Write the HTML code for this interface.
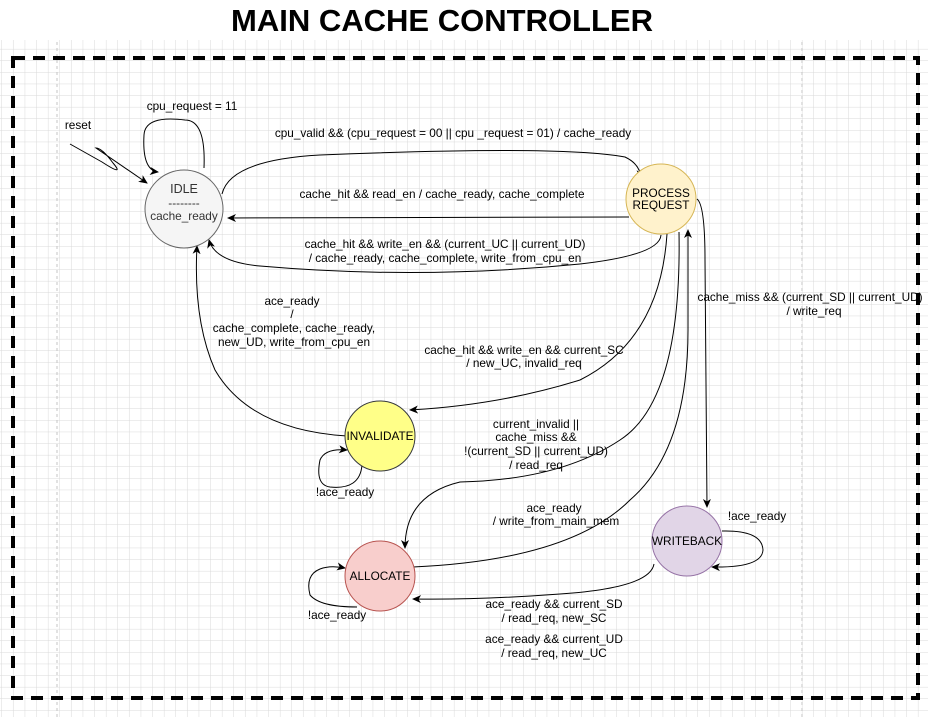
<!DOCTYPE html>
<html><head><meta charset="utf-8"><style>
html,body{margin:0;padding:0;background:#fff}
svg{display:block}
text{font-family:"Liberation Sans",Arial,sans-serif;font-size:11.8px;fill:#000}
</style></head><body>
<svg width="928" height="717" viewBox="0 0 928 717" xmlns="http://www.w3.org/2000/svg">
<defs>
<pattern id="g" width="11.6" height="11.6" patternUnits="userSpaceOnUse" x="2" y="3">
<path d="M11.6 0V11.6M0 11.6H11.6" stroke="#d9d9d9" stroke-width="1" fill="none"/>
</pattern>
<marker id="a" markerWidth="10" markerHeight="10" refX="8" refY="4" orient="auto" markerUnits="userSpaceOnUse">
<path d="M0 0L9 4L0 8L2.5 4Z" fill="#000"/>
</marker>
</defs>
<rect width="928" height="717" fill="#fff"/>
<rect x="0" y="40" width="928" height="677" fill="url(#g)"/>
<line x1="57" y1="0" x2="57" y2="717" stroke="#c4c4c4" stroke-dasharray="3,3"/>
<line x1="802" y1="0" x2="802" y2="717" stroke="#c4c4c4" stroke-dasharray="3,3"/>
<rect x="0" y="0" width="928" height="40" fill="#fff"/>
<text x="442" y="31" text-anchor="middle" style="font-size:31px;font-weight:bold">MAIN CACHE CONTROLLER</text>
<rect x="13" y="58" width="905" height="640" fill="none" stroke="#000" stroke-width="4" stroke-dasharray="12,8"/>

<g fill="none" stroke="#000" stroke-width="1">
<path d="M70 144L102 162Q125 177 113 163Q102 148 96 148L147 183" marker-end="url(#a)"/>
<path d="M204 168Q206 120 185 120Q145 115 144 135Q142 170 158 172" marker-end="url(#a)"/>
<path d="M222 194Q230 160 320 155Q560 145 625 157Q640 164 641 178" marker-end="url(#a)"/>
<path d="M629 217L228 218" marker-end="url(#a)"/>
<path d="M661 235Q660 255 580 264Q420 280 260 266Q215 262 209 240" marker-end="url(#a)"/>
<path d="M347 436Q250 430 215 370Q193 320 197 246" marker-end="url(#a)"/>
<path d="M667 234Q660 340 580 380Q500 405 410 410" marker-end="url(#a)"/>
<path d="M362 465Q360 490 330 487Q315 485 320 460Q325 448 347 450" marker-end="url(#a)"/>
<path d="M679 232Q682 400 620 440Q560 480 460 482Q405 495 405 548" marker-end="url(#a)"/>
<path d="M413 567Q570 560 630 500Q688 450 688 330L688 230" marker-end="url(#a)"/>
<path d="M697 199Q705 205 705 260L707 507" marker-end="url(#a)"/>
<path d="M722 531Q762 530 763 550Q762 568 712 567" marker-end="url(#a)"/>
<path d="M654 564Q650 588 560 594Q480 600 413 599" marker-end="url(#a)"/>
<path d="M357 607Q320 607 310 595Q305 575 320 569Q330 565 345 568" marker-end="url(#a)"/>
</g>

<circle cx="184" cy="209" r="39" fill="#f5f5f5" stroke="#666"/>
<circle cx="661" cy="199" r="35" fill="#fff2cc" stroke="#d6b656"/>
<circle cx="380" cy="436" r="35" fill="#ffff88" stroke="#36393d"/>
<circle cx="380" cy="576" r="35" fill="#f8cecc" stroke="#b85450"/>
<circle cx="687" cy="541" r="35" fill="#e1d5e7" stroke="#9673a6"/>

<g text-anchor="middle">
<text x="184" y="193" style="font-size:12.5px;fill:#333">IDLE</text>
<text x="184" y="207" style="fill:#333">--------</text>
<text x="184" y="220" style="fill:#333">cache_ready</text>
<text x="661" y="197">PROCESS</text>
<text x="661" y="209">REQUEST</text>
<text x="380" y="440">INVALIDATE</text>
<text x="380" y="580">ALLOCATE</text>
<text x="687" y="545">WRITEBACK</text>

<text x="192" y="110">cpu_request = 11</text>
<text x="453" y="137">cpu_valid &amp;&amp; (cpu_request = 00 || cpu _request = 01) / cache_ready</text>
<text x="442" y="198">cache_hit &amp;&amp; read_en /  cache_ready, cache_complete</text>
<text x="445" y="248">cache_hit &amp;&amp; write_en &amp;&amp; (current_UC || current_UD)</text>
<text x="445" y="262">/  cache_ready, cache_complete, write_from_cpu_en</text>
<text x="292" y="305">ace_ready</text>
<text x="292" y="318">/</text>
<text x="294" y="332">cache_complete, cache_ready,</text>
<text x="294" y="346">new_UD, write_from_cpu_en</text>
<text x="524" y="354">cache_hit &amp;&amp; write_en &amp;&amp; current_SC</text>
<text x="524" y="367">/ new_UC, invalid_req</text>
<text x="810" y="301">cache_miss &amp;&amp; (current_SD || current_UD)</text>
<text x="814" y="315">/ write_req</text>
<text x="536" y="428">current_invalid ||</text>
<text x="536" y="441">cache_miss &amp;&amp;</text>
<text x="536" y="455">!(current_SD || current_UD)</text>
<text x="536" y="469">/ read_req</text>
<text x="345" y="496">!ace_ready</text>
<text x="554" y="512">ace_ready</text>
<text x="556" y="525">/ write_from_main_mem</text>
<text x="757" y="520">!ace_ready</text>
<text x="337" y="619">!ace_ready</text>
<text x="554" y="608">ace_ready &amp;&amp; current_SD</text>
<text x="554" y="622">/ read_req, new_SC</text>
<text x="554" y="643">ace_ready &amp;&amp; current_UD</text>
<text x="554" y="657">/ read_req, new_UC</text>
<text x="78" y="129">reset</text>
</g>
</svg>
</body></html>
